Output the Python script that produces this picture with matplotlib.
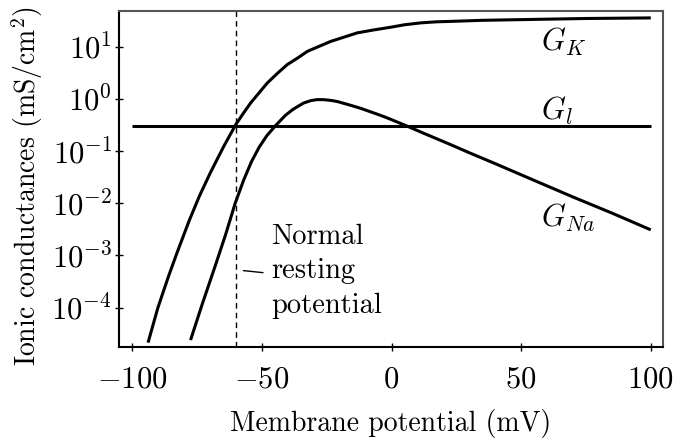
import matplotlib
matplotlib.use("Agg")
import matplotlib.pyplot as plt
import numpy as np

plt.rcParams['font.family'] = 'serif'
plt.rcParams['font.serif'] = ['cmr10', 'DejaVu Serif']
plt.rcParams['mathtext.fontset'] = 'cm'
plt.rcParams['axes.formatter.use_mathtext'] = True

# Data (membrane potential in mV, conductance in mS/cm^2)
V_K = [-93.9, -90.1, -86.0, -82.6, -78.0, -74.0, -69.7, -64.6, -60.1, -57.2, -54.3,
       -51.0, -47.9, -44.0, -40.2, -36.0, -32.4, -23.5, -13.2, -7.0, -0.3, 5.0,
       11.3, 17.0, 24.1, 35.0, 49.8, 75.0, 100.0]
G_K = [2.14e-5, 1.0e-4, 4.0e-4, 1.17e-3, 4.7e-3, 0.0141, 0.040, 0.126, 0.32, 0.525, 0.84,
       1.32, 2.02, 3.09, 4.54, 6.17, 8.17, 12.6, 18.4, 20.9, 23.6, 26.3,
       28.6, 29.9, 30.7, 32.0, 33.0, 34.7, 35.6]

V_Na = [-77.5, -73.0, -68.0, -64.0, -60.3, -57.0, -54.0, -51.0, -48.0, -44.4, -41.0,
        -38.0, -34.0, -31.0, -28.6, -26.0, -23.0, -20.9, -16.0, -11.9, -6.0, -2.9,
        0.0, 6.1, 12.0, 22.8, 30.0, 40.0, 55.0, 70.0, 85.0, 100.0]
G_Na = [2.4e-5, 1.17e-4, 6.3e-4, 2.5e-3, 0.01, 0.028, 0.063, 0.12, 0.2, 0.32, 0.48,
        0.63, 0.83, 0.93, 0.97, 0.966, 0.93, 0.89, 0.76, 0.66, 0.52, 0.457,
        0.40, 0.30, 0.224, 0.133, 0.093, 0.0575, 0.0275, 0.0132, 0.0065, 0.0031]

V_l = [-100.0, 100.0]
G_l = [0.3, 0.3]

V_rest = -60.0

x_ticks = [-100, -50, 0, 50, 100]
y_ticks = [1e-4, 1e-3, 1e-2, 1e-1, 1e0, 1e1]

fig = plt.figure(figsize=(6.75, 4.45), dpi=100)
ax = fig.add_axes([0.1763, 0.2209, 0.8055, 0.7544])

lw = 2.2
ax.plot(V_K, G_K, color='black', lw=lw, solid_capstyle='butt', solid_joinstyle='round')
ax.plot(V_Na, G_Na, color='black', lw=lw, solid_capstyle='butt', solid_joinstyle='round')
ax.plot(V_l, G_l, color='black', lw=lw, solid_capstyle='butt')
ax.axvline(V_rest, color='black', lw=1.0, ls=(0, (4, 3)))

ax.set_yscale('log')
ax.set_xlim(-105.1, 104.6)
ax.set_ylim(1.79e-5, 48.3)
ax.set_xticks(x_ticks)
ax.set_yticks(y_ticks)
ax.yaxis.set_minor_locator(matplotlib.ticker.NullLocator())

fs_tick = 22
fs_lab = 20
ax.tick_params(direction='inout', length=6, width=1.0, labelsize=fs_tick)
ax.tick_params(axis='x', pad=11)
ax.tick_params(axis='y', pad=2)
for s in ['left', 'bottom']:
    ax.spines[s].set_linewidth(1.5)
    ax.spines[s].set_color('black')
for s in ['top', 'right']:
    ax.spines[s].set_linewidth(1.5)
    ax.spines[s].set_color('#555555')

ax.set_xlabel('Membrane potential (mV)', fontsize=fs_lab, labelpad=11)
ax.set_ylabel(r'Ionic conductances (mS/cm$^2$)', fontsize=fs_lab)
ax.yaxis.set_label_coords(-0.137, 0.48)

ax.text(57.5, 12.5, r'$G_K$', fontsize=fs_tick, ha='left', va='center')
ax.text(57.5, 0.6, r'$G_l$', fontsize=fs_tick, ha='left', va='center')
ax.text(57.5, 0.0053, r'$G_{Na}$', fontsize=fs_tick, ha='left', va='center')

ax.text(-46.5, 4.0e-3, 'Normal\nresting\npotential', fontsize=20.5, ha='left',
        va='top', linespacing=1.38)
ax.annotate('', xy=(-58.2, 10**-3.284), xytext=(-48.5, 10**-3.334),
            arrowprops=dict(arrowstyle='-', color='black', lw=1.0))

fig.savefig('out.png', dpi=100)
